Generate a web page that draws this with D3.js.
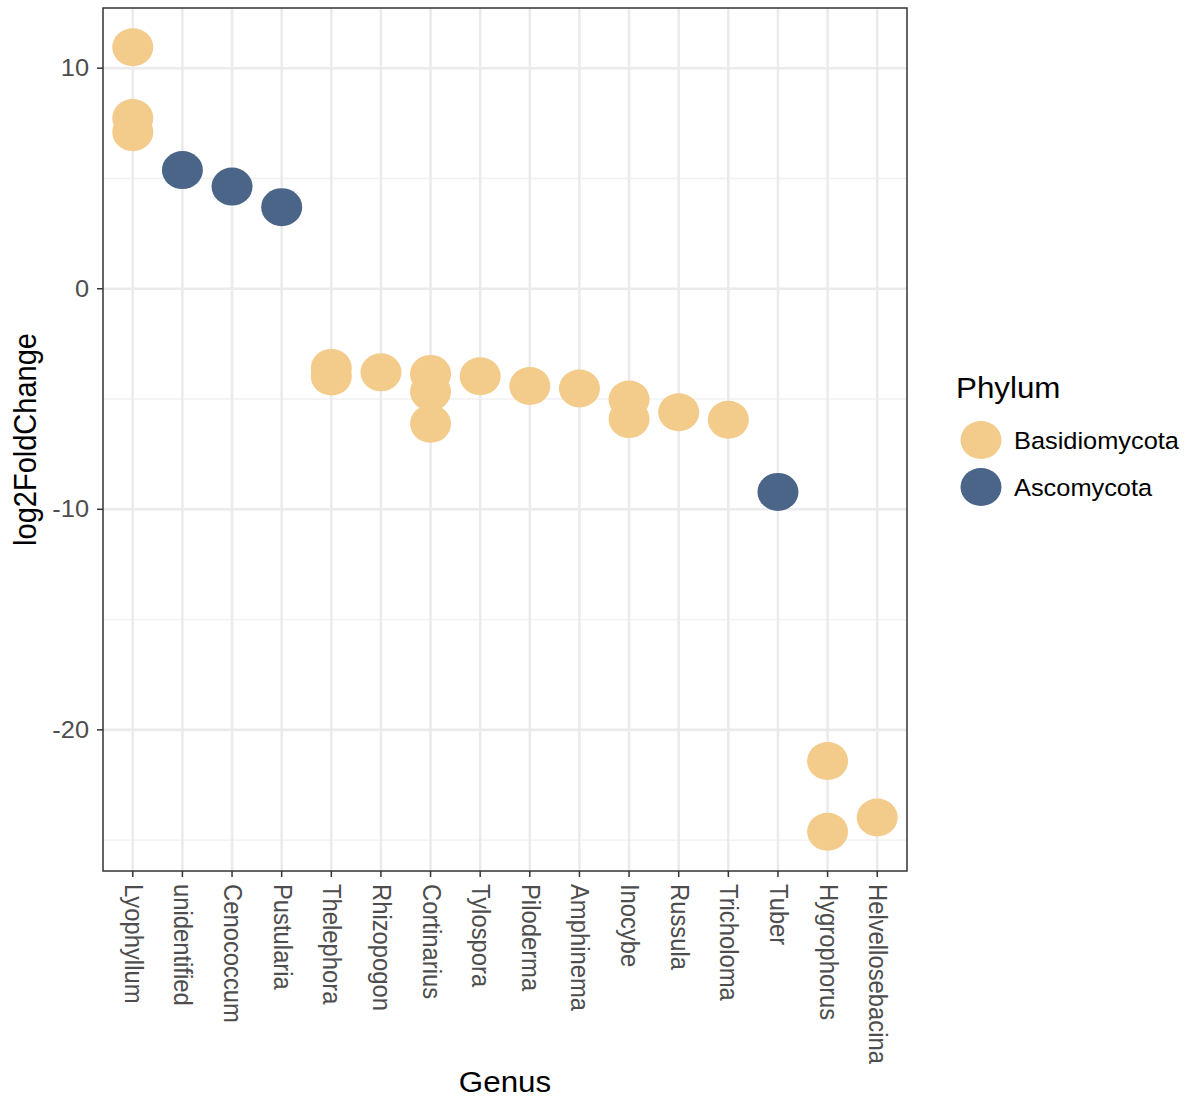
<!DOCTYPE html>
<html>
<head>
<meta charset="utf-8">
<script src="https://cdn.jsdelivr.net/npm/d3@7"></script>
<style>
  html, body { margin: 0; padding: 0; background: #fff; }
  text { font-family: "Liberation Sans", Arial, sans-serif; }
</style>
</head>
<body>
<svg id="chart" width="1189" height="1097"></svg>
<script>
// Genus order along the x axis
const genera = ["Lyophyllum", "unidentified", "Cenococcum", "Pustularia", "Thelephora",
  "Rhizopogon", "Cortinarius", "Tylospora", "Piloderma", "Amphinema", "Inocybe",
  "Russula", "Tricholoma", "Tuber", "Hygrophorus", "Helvellosebacina"];

// One entry per differentially abundant taxon
const pointGenus = ["Lyophyllum", "Lyophyllum", "Lyophyllum", "unidentified", "Cenococcum",
  "Pustularia", "Thelephora", "Thelephora", "Rhizopogon", "Cortinarius", "Cortinarius",
  "Cortinarius", "Tylospora", "Piloderma", "Amphinema", "Inocybe", "Inocybe", "Russula",
  "Tricholoma", "Tuber", "Hygrophorus", "Hygrophorus", "Helvellosebacina"];
const pointLfc = [10.95, 7.74, 7.10, 5.38, 4.63, 3.70, -3.59, -3.98, -3.79, -3.86, -4.67,
  -6.12, -3.97, -4.41, -4.52, -5.02, -5.91, -5.60, -5.94, -9.21, -21.41, -24.62, -23.97];
const pointPhylum = ["Basidiomycota", "Basidiomycota", "Basidiomycota", "Ascomycota",
  "Ascomycota", "Ascomycota", "Basidiomycota", "Basidiomycota", "Basidiomycota",
  "Basidiomycota", "Basidiomycota", "Basidiomycota", "Basidiomycota", "Basidiomycota",
  "Basidiomycota", "Basidiomycota", "Basidiomycota", "Basidiomycota", "Basidiomycota",
  "Ascomycota", "Basidiomycota", "Basidiomycota", "Basidiomycota"];

const phyla = ["Basidiomycota", "Ascomycota"];
const phylumColors = ["#F3CB8A", "#4A6587"];
const yMajorTicks = [10, 0, -10, -20];
const yMinorTicks = [5, -5, -15, -25];

const svg = d3.select("#chart");
const panel = { left: 103, right: 907, top: 8, bottom: 871 };
const SX = 1.08; // horizontal stretch of glyphs

const data = pointGenus.map((g, i) => ({ genus: g, lfc: pointLfc[i], phylum: pointPhylum[i] }));

const x = d3.scalePoint().domain(genera).range([panel.left, panel.right]).padding(0.6);
const [lo, hi] = d3.extent(pointLfc);
const pad = (hi - lo) * 0.05;
const y = d3.scaleLinear().domain([lo - pad, hi + pad]).range([panel.bottom, panel.top]);
const color = d3.scaleOrdinal().domain(phyla).range(phylumColors);

const grid = svg.append("g");
// minor horizontal grid
grid.selectAll(".ymin").data(yMinorTicks).join("line")
  .attr("x1", panel.left).attr("x2", panel.right)
  .attr("y1", d => y(d)).attr("y2", d => y(d))
  .attr("stroke", "#f0f0f0").attr("stroke-width", 1.4);
// major horizontal grid
grid.selectAll(".ymaj").data(yMajorTicks).join("line")
  .attr("x1", panel.left).attr("x2", panel.right)
  .attr("y1", d => y(d)).attr("y2", d => y(d))
  .attr("stroke", "#ebebeb").attr("stroke-width", 2.6);
// vertical grid per genus
grid.selectAll(".xmaj").data(genera).join("line")
  .attr("x1", d => x(d)).attr("x2", d => x(d))
  .attr("y1", panel.top).attr("y2", panel.bottom)
  .attr("stroke", "#ebebeb").attr("stroke-width", 2.6);

// points
svg.append("g").selectAll("ellipse").data(data).join("ellipse")
  .attr("cx", d => x(d.genus)).attr("cy", d => y(d.lfc))
  .attr("rx", 20.5).attr("ry", 19)
  .attr("fill", d => color(d.phylum));

// panel border
svg.append("rect")
  .attr("x", panel.left).attr("y", panel.top)
  .attr("width", panel.right - panel.left).attr("height", panel.bottom - panel.top)
  .attr("fill", "none").attr("stroke", "#333").attr("stroke-width", 1.5);

// y axis ticks and labels
const yAx = svg.append("g");
yAx.selectAll("line").data(yMajorTicks).join("line")
  .attr("x1", panel.left - 6).attr("x2", panel.left)
  .attr("y1", d => y(d)).attr("y2", d => y(d))
  .attr("stroke", "#333").attr("stroke-width", 1.5);
yAx.selectAll("text").data(yMajorTicks).join("text")
  .attr("transform", d => `translate(${panel.left - 14},${y(d) + 8}) scale(${SX},1)`)
  .attr("text-anchor", "end").attr("font-size", 23.5).attr("fill", "#4d4d4d")
  .text(d => d);

// x axis ticks and labels
const xAx = svg.append("g");
xAx.selectAll("line").data(genera).join("line")
  .attr("x1", d => x(d)).attr("x2", d => x(d))
  .attr("y1", panel.bottom).attr("y2", panel.bottom + 6)
  .attr("stroke", "#333").attr("stroke-width", 1.5);
xAx.selectAll("text").data(genera).join("text")
  .attr("transform", d => `translate(${x(d) - 8},${panel.bottom + 13}) scale(${SX},1) rotate(90)`)
  .attr("text-anchor", "start").attr("font-size", 23.8).attr("fill", "#4d4d4d")
  .text(d => d);

// axis titles
svg.append("text")
  .attr("transform", `translate(${(panel.left + panel.right) / 2},1092) scale(${SX},1)`)
  .attr("text-anchor", "middle").attr("font-size", 29).attr("fill", "#000")
  .text("Genus");
svg.append("text")
  .attr("transform", `translate(36,${(panel.top + panel.bottom) / 2}) scale(${SX},1) rotate(-90)`)
  .attr("text-anchor", "middle").attr("font-size", 29).attr("fill", "#000")
  .text("log2FoldChange");

// legend
const legend = svg.append("g");
legend.append("text")
  .attr("transform", `translate(956,398) scale(${SX},1)`)
  .attr("font-size", 29).attr("fill", "#000").text("Phylum");
const keys = legend.selectAll(".key").data(phyla).join("g")
  .attr("transform", (d, i) => `translate(981,${440 + i * 47})`);
keys.append("ellipse").attr("rx", 20.5).attr("ry", 19).attr("fill", d => color(d));
keys.append("text")
  .attr("transform", `translate(33,9) scale(${SX},1)`)
  .attr("font-size", 23.5).attr("fill", "#000").text(d => d);
</script>
</body>
</html>
